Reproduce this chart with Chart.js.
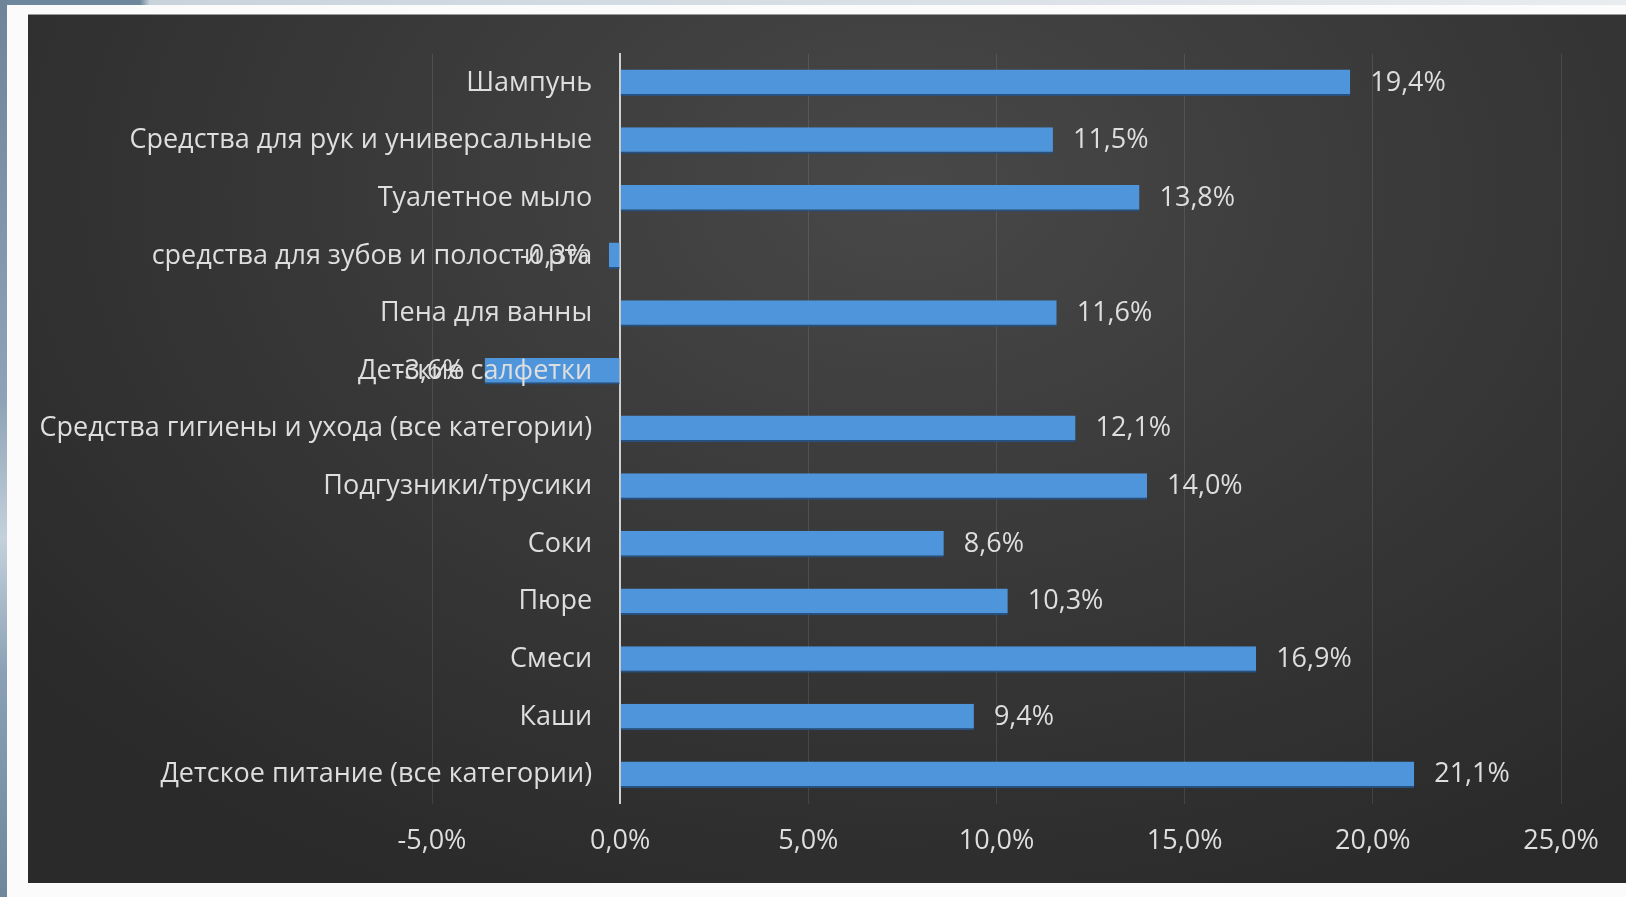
<!DOCTYPE html>
<html>
<head>
<meta charset="utf-8">
<script src="https://cdn.jsdelivr.net/npm/chart.js@4.4.1/dist/chart.umd.min.js"></script>
<style>
    body { margin: 0; width: 1626px; height: 897px; background: #fbfbfb; position: relative; overflow: hidden; }
    #topStrip { position: absolute; left: 0; top: 0; width: 1626px; height: 5px;
        background: linear-gradient(to right, #6f879c 0, #6f879c 140px, #c9d3dc 150px, #e8ecef 100%); }
    #leftStrip { position: absolute; left: 0; top: 0; width: 7px; height: 897px;
        background: linear-gradient(to bottom, #6d8499 0%, #8ea4b6 45%, #c4d1db 60%, #8aa1b4 75%, #6f879b 100%); }
    #panel { position: absolute; left: 28px; top: 14px; right: 0; height: 869px;
        background: radial-gradient(ellipse 70% 90% at 55% 20%, #484848 0%, #3a3a3a 45%, #2a2a2a 100%);
        border-top: 1px solid #9a9a9a; box-sizing: border-box; }
    #wrap { position: absolute; left: 0; top: 0; width: 1626px; height: 897px; }
</style>
</head>
<body>
<div id="topStrip"></div>
<div id="leftStrip"></div>
<div id="panel"></div>
<div id="wrap"><canvas id="growthChart"></canvas></div>
<script>
const categories = [
    "Шампунь",
    "Средства для рук и универсальные",
    "Туалетное мыло",
    "средства для зубов и полости рта",
    "Пена для ванны",
    "Детские салфетки",
    "Средства гигиены и ухода (все категории)",
    "Подгузники/трусики",
    "Соки",
    "Пюре",
    "Смеси",
    "Каши",
    "Детское питание (все категории)"
];
const growth = [19.4, 11.5, 13.8, -0.3, 11.6, -3.6, 12.1, 14.0, 8.6, 10.3, 16.9, 9.4, 21.1];
const xTicks = [-5, 0, 5, 10, 15, 20, 25];

const textColor = '#dedede';
const fontFamily = "'Open Sans', 'Noto Sans', sans-serif";
const fontSize = 27;

function fmt(v) {
    return v.toFixed(1).replace('.', ',') + '%';
}

// category names next to the zero line and values at the bar ends
const barTexts = {
    id: 'barTexts',
    afterDatasetsDraw(chart) {
        const ctx = chart.ctx;
        const meta = chart.getDatasetMeta(0);
        const yScale = chart.scales.y;
        const zeroX = chart.scales.x.getPixelForValue(0);
        ctx.save();
        ctx.font = fontSize + 'px ' + fontFamily;
        ctx.fillStyle = textColor;
        ctx.textBaseline = 'middle';

        categories.forEach((name, i) => {
            ctx.textAlign = 'right';
            ctx.fillText(name, zeroX - 28, yScale.getPixelForTick(i));
        });

        meta.data.forEach((bar, i) => {
            const v = growth[i];
            if (v >= 0) {
                ctx.textAlign = 'left';
                ctx.fillText(fmt(v), bar.x + 20, bar.y);
            } else {
                ctx.textAlign = 'right';
                ctx.fillText(fmt(v), bar.x - 20, bar.y);
            }
        });
        ctx.restore();
    }
};

const ctx = document.getElementById('growthChart').getContext('2d');

new Chart(ctx, {
    type: 'bar',
    data: {
        labels: categories,
        datasets: [{
            data: growth,
            backgroundColor: '#4f95dc',
            borderColor: '#25507f',
            borderWidth: { bottom: 2 },
            borderSkipped: false,
            barPercentage: 0.46,
            categoryPercentage: 1
        }]
    },
    options: {
        indexAxis: 'y',
        responsive: true,
        maintainAspectRatio: false,
        animation: false,
        layout: {
            padding: { left: 432, right: 65, top: 54, bottom: 17 }
        },
        plugins: {
            legend: { display: false },
            tooltip: { enabled: false }
        },
        scales: {
            x: {
                min: -5,
                max: 25,
                afterBuildTicks: axis => {
                    axis.ticks = xTicks.map(v => ({ value: v }));
                },
                grid: {
                    color: 'rgba(255,255,255,0.10)',
                    drawTicks: false
                },
                border: { display: false },
                ticks: {
                    padding: 22,
                    color: textColor,
                    font: { size: fontSize, family: fontFamily },
                    callback: v => fmt(v)
                }
            },
            y: {
                position: { x: 0 },
                grid: { display: false, drawTicks: false },
                border: { display: true, color: '#cfcfcf', width: 2 },
                ticks: { display: false }
            }
        }
    },
    plugins: [barTexts]
});
</script>
</body>
</html>
